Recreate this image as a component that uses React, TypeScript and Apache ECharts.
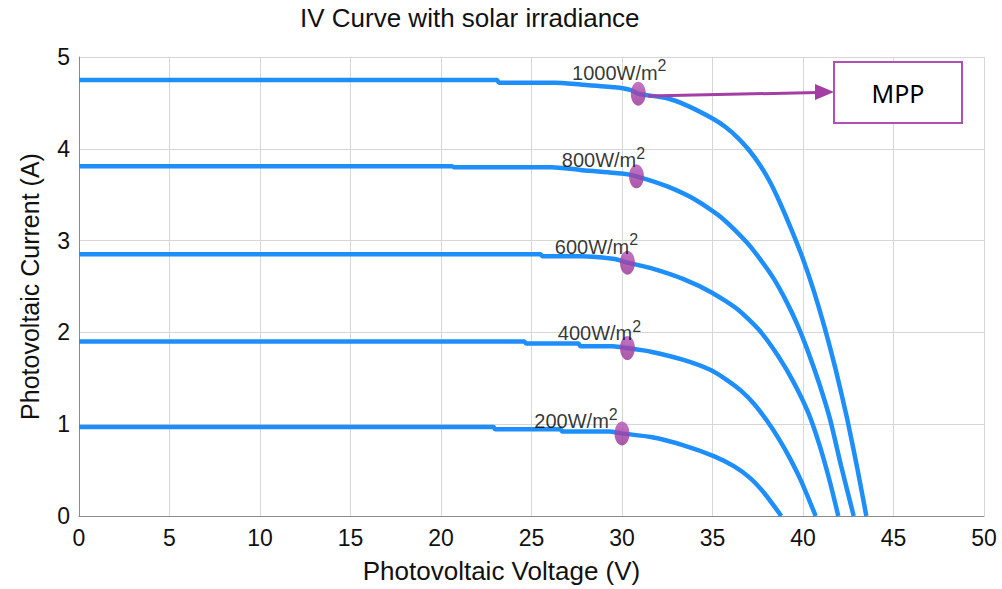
import React, { useEffect, useRef } from "react";
import * as echarts from "echarts";

// Voltage (V), Current (A) pairs
const curve1000: [number, number][] = [
  [0, 4.75], [23.1, 4.75], [23.2, 4.72], [26.3, 4.72], [27.7, 4.7], [29.6, 4.67], [30.5, 4.64],
  [30.9, 4.6], [32.5, 4.55], [33.6, 4.47], [35.0, 4.33], [35.7, 4.24], [36.4, 4.12], [37.0, 3.99],
  [37.6, 3.83], [38.2, 3.63], [38.8, 3.38], [39.4, 3.1], [40.0, 2.8], [40.6, 2.45], [41.2, 2.05],
  [41.8, 1.6], [42.45, 1.05], [43.0, 0.52], [43.5, 0],
];
const curve800: [number, number][] = [
  [0, 3.81], [20.6, 3.81], [20.7, 3.8], [26.1, 3.8], [27.7, 3.77], [30.0, 3.73], [30.8, 3.7],
  [32.5, 3.59], [34.1, 3.44], [35.5, 3.25], [36.9, 2.98], [37.7, 2.78], [38.4, 2.58], [39.1, 2.33],
  [39.7, 2.08], [40.3, 1.78], [40.9, 1.44], [41.5, 1.05], [42.1, 0.55], [42.8, 0],
];
const curve600: [number, number][] = [
  [0, 2.85], [25.5, 2.85], [25.6, 2.83], [27.7, 2.83], [29.6, 2.8], [30.3, 2.76], [31.6, 2.7],
  [33.4, 2.58], [35.0, 2.43], [36.4, 2.25], [37.6, 2.02], [38.6, 1.75], [39.5, 1.45], [40.3, 1.12],
  [40.9, 0.78], [41.45, 0.4], [41.95, 0],
];
const curve400: [number, number][] = [
  [0, 1.9], [24.6, 1.9], [24.7, 1.88], [27.6, 1.88], [27.7, 1.85], [29.5, 1.85], [30.3, 1.83],
  [31.6, 1.79], [33.4, 1.7], [34.9, 1.59], [35.8, 1.48], [36.6, 1.36], [37.3, 1.22], [38.0, 1.04],
  [38.7, 0.83], [39.3, 0.62], [39.9, 0.38], [40.7, 0],
];
const curve200: [number, number][] = [
  [0, 0.97], [22.9, 0.97], [23.0, 0.945], [26.6, 0.945], [26.7, 0.92], [29.3, 0.92], [30.0, 0.9],
  [31.6, 0.86], [33.4, 0.77], [35.1, 0.65], [36.2, 0.54], [37.1, 0.41], [37.9, 0.24], [38.8, 0],
];

const irradiance = ["1000", "800", "600", "400", "200"];
const mppPoints: [number, number][] = [
  [30.9, 4.6], [30.8, 3.7], [30.3, 2.76], [30.3, 1.83], [30.0, 0.9],
];

const titleText = "IV Curve with solar irradiance";
const xName = "Photovoltaic Voltage (V)";
const yName = "Photovoltaic Current (A)";
const annotationText = "MPP";

// label placement (pixels relative to each MPP dot)
const labelOffsets: [number, number][] = [
  [-19, -21], [-33, -16], [-31, -16], [-28, -15], [-46, -12],
];

const FONT = "'Liberation Sans', Arial, sans-serif";
const BLUE = "#1E8EFA";
const PURPLE = "#A43DA4";

export default function App() {
  const ref = useRef<HTMLDivElement>(null);
  useEffect(() => {
    if (!ref.current) return;
    const chart = echarts.init(ref.current, null, { renderer: "svg" });
    const curves = [curve1000, curve800, curve600, curve400, curve200];
    const lineSeries = curves.map((c, i) => ({
      type: "line",
      name: irradiance[i] + "W/m2",
      data: c,
      showSymbol: false,
      smooth: 0.2,
      lineStyle: { color: BLUE, width: 4.5 },
      itemStyle: { color: BLUE },
      z: 2,
    }));
    const option: any = {
      animation: false,
      backgroundColor: "#ffffff",
      title: {
        text: titleText,
        left: 300,
        top: 5,
        padding: 0,
        textStyle: { fontFamily: FONT, fontSize: 26, fontWeight: "normal", color: "#111" },
      },
      grid: { left: 79, right: 18, top: 57, bottom: 73, containLabel: false },
      xAxis: {
        type: "value",
        min: 0,
        max: 50,
        interval: 5,
        name: xName,
        nameLocation: "middle",
        nameGap: 42,
        nameTextStyle: { fontFamily: FONT, fontSize: 26, color: "#111", padding: [0, 60, 0, 0] },
        axisLine: { show: true, lineStyle: { color: "#8a8a8a", width: 1 } },
        axisTick: { show: false },
        axisLabel: { fontFamily: FONT, fontSize: 23, color: "#111", margin: 10 },
        splitLine: { show: true, lineStyle: { color: "#d6d6d6", width: 1 } },
      },
      yAxis: {
        type: "value",
        min: 0,
        max: 5,
        interval: 1,
        name: yName,
        nameLocation: "middle",
        nameGap: 37,
        nameTextStyle: { fontFamily: FONT, fontSize: 25, color: "#111" },
        axisLine: { show: true, lineStyle: { color: "#8a8a8a", width: 1 } },
        axisTick: { show: false },
        axisLabel: { fontFamily: FONT, fontSize: 23, color: "#111", margin: 9 },
        splitLine: { show: true, lineStyle: { color: "#d6d6d6", width: 1 } },
      },
      series: [
        ...lineSeries,
        {
          type: "scatter",
          name: "MPP",
          symbol: "circle",
          symbolSize: [15, 24],
          z: 5,
          itemStyle: {
            color: new echarts.graphic.LinearGradient(0, 0, 0, 1, [
              { offset: 0, color: "#B452B4" },
              { offset: 1, color: "#952E95" },
            ]),
          },
          data: mppPoints.map((p, i) => ({
            value: p,
            label: {
              show: true,
              position: "inside",
              offset: labelOffsets[i],
              formatter: "{a|" + irradiance[i] + "W/m}{b|2}",
              rich: {
                a: { fontFamily: FONT, fontSize: 20, color: "#000", lineHeight: 30 },
                b: { fontFamily: FONT, fontSize: 16, color: "#000", lineHeight: 14, verticalAlign: "top" },
              },
            },
          })),
        },
      ],
      graphic: [
        {
          type: "line",
          shape: { x1: 648, y1: 96, x2: 818, y2: 92.5 },
          style: { stroke: PURPLE, lineWidth: 3 },
          z: 10,
        },
        {
          type: "polygon",
          shape: { points: [[815, 84], [834, 92], [815, 100]] },
          style: { fill: PURPLE },
          z: 10,
        },
        {
          type: "rect",
          shape: { x: 834, y: 62, width: 128, height: 61 },
          style: { fill: "#ffffff", stroke: "#B050B5", lineWidth: 2 },
          z: 10,
        },
        {
          type: "text",
          x: 898,
          y: 93,
          style: {
            text: annotationText,
            fontFamily: "'Noto Sans', 'Open Sans', sans-serif",
            fontSize: 25,
            fill: "#000",
            align: "center",
            verticalAlign: "middle",
          },
          z: 11,
        },
      ],
    };
    chart.setOption(option);
    return () => chart.dispose();
  }, []);
  return (
    <div
      ref={ref}
      style={{ position: "fixed", left: 0, top: 0, width: 1002, height: 589, background: "#fff" }}
    />
  );
}
